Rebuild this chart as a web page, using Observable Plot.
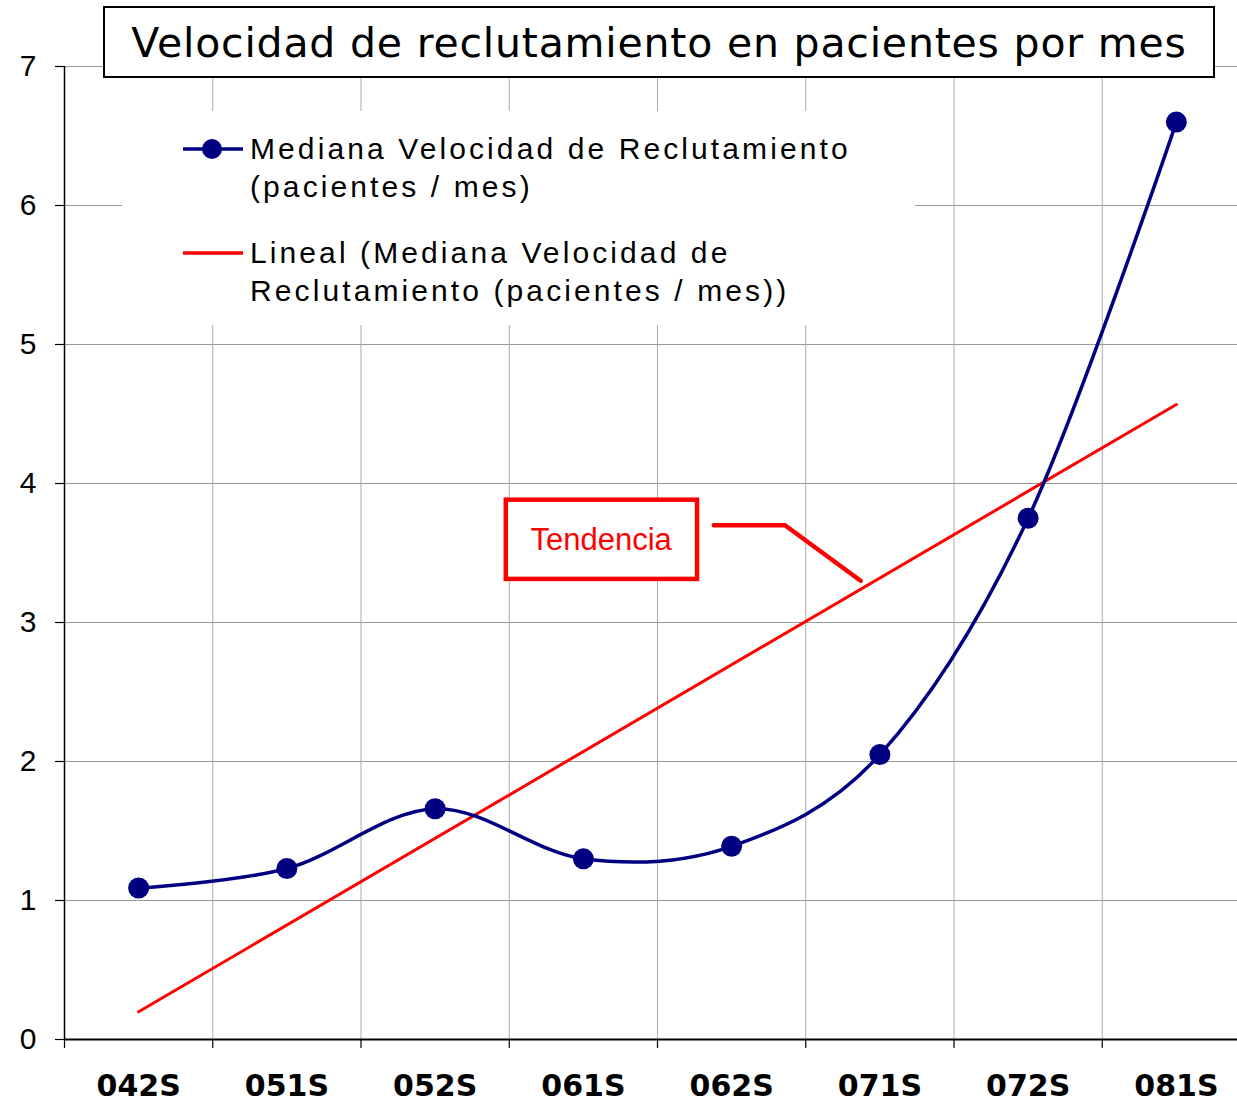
<!DOCTYPE html>
<html><head><meta charset="utf-8">
<script src="https://cdn.jsdelivr.net/npm/d3@7"></script>
<script src="https://cdn.jsdelivr.net/npm/@observablehq/plot@0.6"></script>
<style>
body{margin:0;background:#fff;}
#wrap{position:relative;width:1237px;height:1104px;overflow:hidden;font-family:"DejaVu Sans",sans-serif;}
#title{position:absolute;left:103px;top:6px;width:1108px;height:68px;border:2px solid #000;background:#fff;
  font-size:41px;letter-spacing:0.8px;line-height:70px;text-align:center;color:#000;white-space:nowrap;}
#legend{position:absolute;left:122px;top:111px;width:793px;height:214px;background:#fff;}
.li{position:absolute;left:0;width:793px;}
.li svg{position:absolute;left:60px;}
.li .t{position:absolute;left:128px;font-family:"Liberation Sans",sans-serif;font-size:30px;letter-spacing:3.1px;line-height:38px;color:#000;white-space:nowrap;}
</style></head><body><div id="wrap"></div>
<script>
const periods = ["042S","051S","052S","061S","062S","071S","072S","081S"];
const medianRate = [1.09, 1.23, 1.66, 1.30, 1.39, 2.05, 3.75, 6.60];
const yTicks = [0,1,2,3,4,5,6,7];
const titleText = "Velocidad de reclutamiento en pacientes por mes";
const seriesLines = ["Mediana Velocidad de Reclutamiento", "(pacientes / mes)"];
const trendLines = ["Lineal (Mediana Velocidad de", "Reclutamiento (pacientes / mes))"];
const annotationText = "Tendencia";
const annotationBox = [{x1: 2.48, x2: 3.77, y1: 3.31, y2: 3.88}];
const annotationLabel = [{x: 3.12, y: 3.59}];
const calloutPath = [{x: 3.88, y: 3.70}, {x: 4.36, y: 3.70}, {x: 4.87, y: 3.30}];

const data = periods.map((p, i) => ({i, p, v: medianRate[i]}));
const idx = periods.map((p, i) => i);
const bounds = d3.range(-0.5, periods.length, 1);
const inner = bounds.filter(b => b > -0.5 && b < periods.length - 0.5);

const chart = Plot.plot({
  width: 1237, height: 1104,
  marginLeft: 64, marginTop: 66, marginBottom: 65, marginRight: 0,
  x: {domain: [-0.5, periods.length - 0.5], range: [64, 1250]},
  y: {domain: [0, 7]},
  style: {fontFamily: "DejaVu Sans", background: "white", color: "black"},
  marks: [
    Plot.ruleY(yTicks.slice(1), {stroke: "#999", strokeWidth: 1}),
    Plot.ruleX(inner, {y1: 0, y2: 7, stroke: "#aaa", strokeWidth: 1}),
    Plot.ruleX([-0.5], {y1: 0, y2: 7, stroke: "black", strokeWidth: 1.5}),
    Plot.ruleY([0], {stroke: "black", strokeWidth: 2}),
    Plot.axisY({ticks: yTicks, tickSize: 9, tickPadding: 19, tickFormat: d3.format("d"), fontSize: 30, fontFamily: "Liberation Sans", strokeWidth: 1.2}),
    Plot.axisX({ticks: bounds, tickSize: 9, tickFormat: () => "", strokeWidth: 1.2}),
    Plot.axisX({ticks: idx, tickSize: 0, tickPadding: 35, tickFormat: i => periods[i], fontSize: 30, fontWeight: "bold", letterSpacing: 1.5}),
    Plot.linearRegressionY(data, {x: "i", y: "v", stroke: "#ff0000", strokeWidth: 3, ci: 0}),
    Plot.line(data, {x: "i", y: "v", stroke: "#000080", strokeWidth: 3.5, curve: "cardinal"}),
    Plot.dot(data, {x: "i", y: "v", r: 10.5, fill: "#000080", stroke: "none"}),
    Plot.rect(annotationBox, {x1: "x1", x2: "x2", y1: "y1", y2: "y2", fill: "white", stroke: "#ff0000", strokeWidth: 4.5}),
    Plot.text(annotationLabel, {x: "x", y: "y", text: () => annotationText, fill: "#ff0000", fontSize: 31, fontFamily: "Liberation Sans"}),
    Plot.line(calloutPath, {x: "x", y: "y", stroke: "#ff0000", strokeWidth: 4.5, strokeLinejoin: "miter"})
  ]
});

const wrap = document.getElementById("wrap");
wrap.appendChild(chart);
const title = document.createElement("div");
title.id = "title"; title.textContent = titleText;
wrap.appendChild(title);
const legend = document.createElement("div");
legend.id = "legend";
function item(top, lines, kind) {
  const d = document.createElement("div");
  d.className = "li"; d.style.top = top + "px";
  const svg = d3.create("svg").attr("width", 62).attr("height", 24).style("top", "7px");
  svg.append("line").attr("x1", 1).attr("x2", 61).attr("y1", 12).attr("y2", 12)
    .attr("stroke", kind === "series" ? "#000080" : "#ff0000").attr("stroke-width", 3.5);
  if (kind === "series") svg.append("circle").attr("cx", 30).attr("cy", 12).attr("r", 10).attr("fill", "#000080");
  d.appendChild(svg.node());
  lines.forEach((l, k) => {
    const t = document.createElement("div");
    t.className = "t"; t.style.top = (k * 38) + "px"; t.textContent = l;
    d.appendChild(t);
  });
  legend.appendChild(d);
}
item(19, seriesLines, "series");
item(123, trendLines, "trend");
wrap.appendChild(legend);
</script></body></html>
